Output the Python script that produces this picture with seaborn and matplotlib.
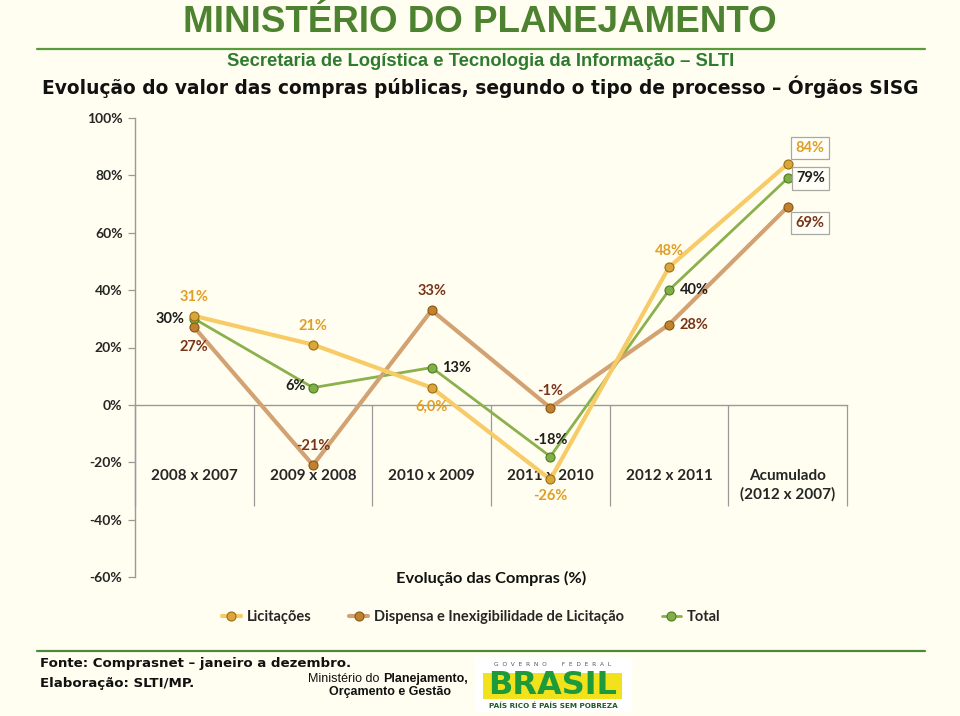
import matplotlib
matplotlib.use("Agg")
import matplotlib.pyplot as plt
import matplotlib.patches as mpatches
from matplotlib.ticker import FixedLocator, FuncFormatter
import seaborn as sns
import pandas as pd

# ---------------- data ----------------
categories = ["2008 x 2007", "2009 x 2008", "2010 x 2009", "2011 x 2010",
              "2012 x 2011", "Acumulado\n(2012 x 2007)"]
licitacoes = [31, 21, 6.0, -26, 48, 84]
dispensa = [27, -21, 33, -1, 28, 69]
total = [30, 6, 13, -18, 40, 79]
labels_lic = ["31%", "21%", "6,0%", "-26%", "48%", "84%"]
labels_dis = ["27%", "-21%", "33%", "-1%", "28%", "69%"]
labels_tot = ["30%", "6%", "13%", "-18%", "40%", "79%"]
series_names = ["Licitações", "Dispensa e Inexigibilidade de Licitação", "Total"]
yticks = [-60, -40, -20, 0, 20, 40, 60, 80, 100]

# ---------------- style ----------------
BG = "#FFFEF0"
sns.set_theme(style="white")
plt.rcParams["font.family"] = ["Lato", "DejaVu Sans"]
plt.rcParams["axes.facecolor"] = BG
plt.rcParams["figure.facecolor"] = BG

W, H = 960, 716
fig = plt.figure(figsize=(W / 100, H / 100), dpi=100)

def fx(px):
    return px / W

def fy(py):
    return 1 - py / H

ax = fig.add_axes([fx(135), fy(577), fx(847 - 135), (577 - 118) / H])
ax.set_facecolor(BG)

x = list(range(len(categories)))
df = pd.DataFrame({
    "x": x * 3,
    "v": licitacoes + dispensa + total,
    "serie": [series_names[0]] * 6 + [series_names[1]] * 6 + [series_names[2]] * 6,
})

line_colors = ["#F6CB68", "#D3A272", "#8AB14C"]
marker_face = ["#D9A63A", "#C0822F", "#7FAF45"]
marker_edge = ["#9C6C12", "#8A5512", "#4E7A22"]
lws = [3.0, 3.0, 2.0]

handles = []
for i, name in enumerate(series_names):
    sub = df[df["serie"] == name]
    sns.lineplot(data=sub, x="x", y="v", ax=ax, color=line_colors[i], lw=lws[i],
                 marker="o", markersize=6.5, markerfacecolor=marker_face[i],
                 markeredgecolor=marker_edge[i], markeredgewidth=0.8,
                 label=name, legend=False, zorder=3 + (2 - i))
    handles.append(ax.lines[-1])

# data labels (offsets in pixels)
lab_specs = [
    (licitacoes, labels_lic, "#E09E27",
     [(0, 19, "center"), (0, 19, "center"), (0, -19, "center"), (0, -17, "center"),
      (0, 16, "center"), (22, 16, "center")]),
    (dispensa, labels_dis, "#7A3318",
     [(0, -20, "center"), (0, 19, "center"), (0, 19, "center"), (0, 17, "center"),
      (11, 0, "left"), (22, -16, "center")]),
    (total, labels_tot, "#1E1E1E",
     [(-10, 0, "right"), (-7, 2, "right"), (10, 0, "left"), (0, 17, "center"),
      (11, 0, "left"), (23, 0, "center")]),
]
for vals, labs, col, offs in lab_specs:
    for j, (v, t) in enumerate(zip(vals, labs)):
        dx, dy, ha = offs[j]
        kw = {}
        if j == len(vals) - 1:
            kw["bbox"] = dict(boxstyle="square,pad=0.3", fc="#FFFFF8", ec="#A8A8A0", lw=0.9)
        ax.annotate(t, (x[j], v), xytext=(dx, dy), textcoords="offset pixels",
                    ha=ha, va="center", fontsize=10.5, fontweight="bold", color=col,
                    zorder=10, **kw)

# axes styling
ax.set_xlim(-0.5, len(categories) - 0.5)
ax.set_ylim(yticks[0], yticks[-1])
ax.yaxis.set_major_locator(FixedLocator(yticks))
ax.yaxis.set_major_formatter(FuncFormatter(lambda v, p: f"{v:.0f}%"))
for lab in ax.get_yticklabels():
    lab.set_fontweight("bold")
ax.tick_params(axis="y", direction="out", length=5, width=0.9, color="#9A9A9A",
               labelsize=10, pad=4, left=True)

ax.spines["top"].set_visible(False)
ax.spines["right"].set_visible(False)
ax.spines["left"].set_color("#9A9A9A")
ax.spines["left"].set_linewidth(1.0)
ax.spines["bottom"].set_position(("data", 0))
ax.spines["bottom"].set_color("#9A9A9A")
ax.spines["bottom"].set_linewidth(1.0)

bounds = [i - 0.5 for i in range(len(categories) + 1)]
ax.xaxis.set_major_locator(FixedLocator(bounds))
ax.xaxis.set_major_formatter(FuncFormatter(lambda v, p: ""))
ax.xaxis.set_minor_locator(FixedLocator(x))
ax.set_xticklabels(categories, minor=True)
ax.tick_params(axis="x", which="major", direction="out", length=73, width=0.9,
               color="#9A9A9A", bottom=True)
ax.tick_params(axis="x", which="minor", length=0, pad=46, labelsize=11, bottom=True)
for lab in ax.get_xticklabels(minor=True):
    lab.set_fontweight("bold")
    lab.set_linespacing(1.35)

ax.set_xlabel("Evolução das Compras (%)", fontsize=11.8, fontweight="bold", color="#111111")
ax.xaxis.set_label_coords(0.5, 0.013)
ax.set_ylabel("")

fig.legend(handles=handles, labels=series_names, loc="center",
           bbox_to_anchor=(fx(471), fy(617)), ncol=3, frameon=False,
           handlelength=1.3, columnspacing=2.6, handletextpad=0.4,
           prop={"weight": "bold", "size": 10.5, "family": ["Lato", "DejaVu Sans"]})

# ---------------- header ----------------
narrow = ["Liberation Sans Narrow", "Liberation Sans", "DejaVu Sans"]
fig.text(fx(480), fy(23), "MINISTÉRIO DO PLANEJAMENTO", ha="center", va="center",
         fontsize=26.5, fontweight="bold", color="#4C8230", family=narrow)
fig.add_artist(plt.Line2D([fx(37), fx(925)], [fy(49), fy(49)], color="#5A9A3C", lw=1.6))
fig.text(fx(481), fy(62), "Secretaria de Logística e Tecnologia da Informação – SLTI",
         ha="center", va="center", fontsize=13.2, fontweight="bold", color="#2E7B30",
         family=narrow)
fig.text(fx(480), fy(87),
         "Evolução do valor das compras públicas, segundo o tipo de processo – Órgãos SISG",
         ha="center", va="center", fontsize=13.4, fontweight="bold", color="#111111",
         family=["DejaVu Sans"])

# ---------------- footer ----------------
fig.add_artist(plt.Line2D([fx(37), fx(925)], [fy(651), fy(651)], color="#4C8A3A", lw=1.6))
fig.text(fx(40), fy(663), "Fonte: Comprasnet – janeiro a dezembro.", ha="left", va="center",
         fontsize=9.6, fontweight="bold", color="#111111", family=["DejaVu Sans"])
fig.text(fx(40), fy(683), "Elaboração: SLTI/MP.", ha="left", va="center",
         fontsize=9.6, fontweight="bold", color="#111111", family=["DejaVu Sans"])
fig.text(fx(383), fy(679), "Ministério do ", ha="right", va="center",
         fontsize=9, color="#111111", family=narrow)
fig.text(fx(383), fy(679), "Planejamento,", ha="left", va="center",
         fontsize=9, fontweight="bold", color="#111111", family=narrow)
fig.text(fx(390), fy(692), "Orçamento e Gestão", ha="center", va="center",
         fontsize=9, fontweight="bold", color="#111111", family=narrow)

lax = fig.add_axes([fx(475), fy(712), fx(632 - 475), (712 - 657) / H])
lax.set_xlim(0, 157)
lax.set_ylim(55, 0)
lax.set_facecolor("white")
for s in lax.spines.values():
    s.set_visible(False)
lax.set_xticks([])
lax.set_yticks([])
lax.add_patch(mpatches.Rectangle((8, 16), 139, 26, fc="#F2E21C", ec="none"))
lax.text(78, 7, "G  O  V  E  R  N  O        F  E  D  E  R  A  L", ha="center", va="center",
         fontsize=4.2, color="#555555", family=["DejaVu Sans"])
lax.text(78, 29, "BRASIL", ha="center", va="center", fontsize=23, fontweight="bold",
         color="#1E9A3A", family=["DejaVu Sans"])
lax.text(78, 49, "PAÍS RICO É PAÍS SEM POBREZA", ha="center", va="center",
         fontsize=5.2, fontweight="bold", color="#1F5A2A", family=["DejaVu Sans"])

fig.savefig("out.png", dpi=100, facecolor=BG)
